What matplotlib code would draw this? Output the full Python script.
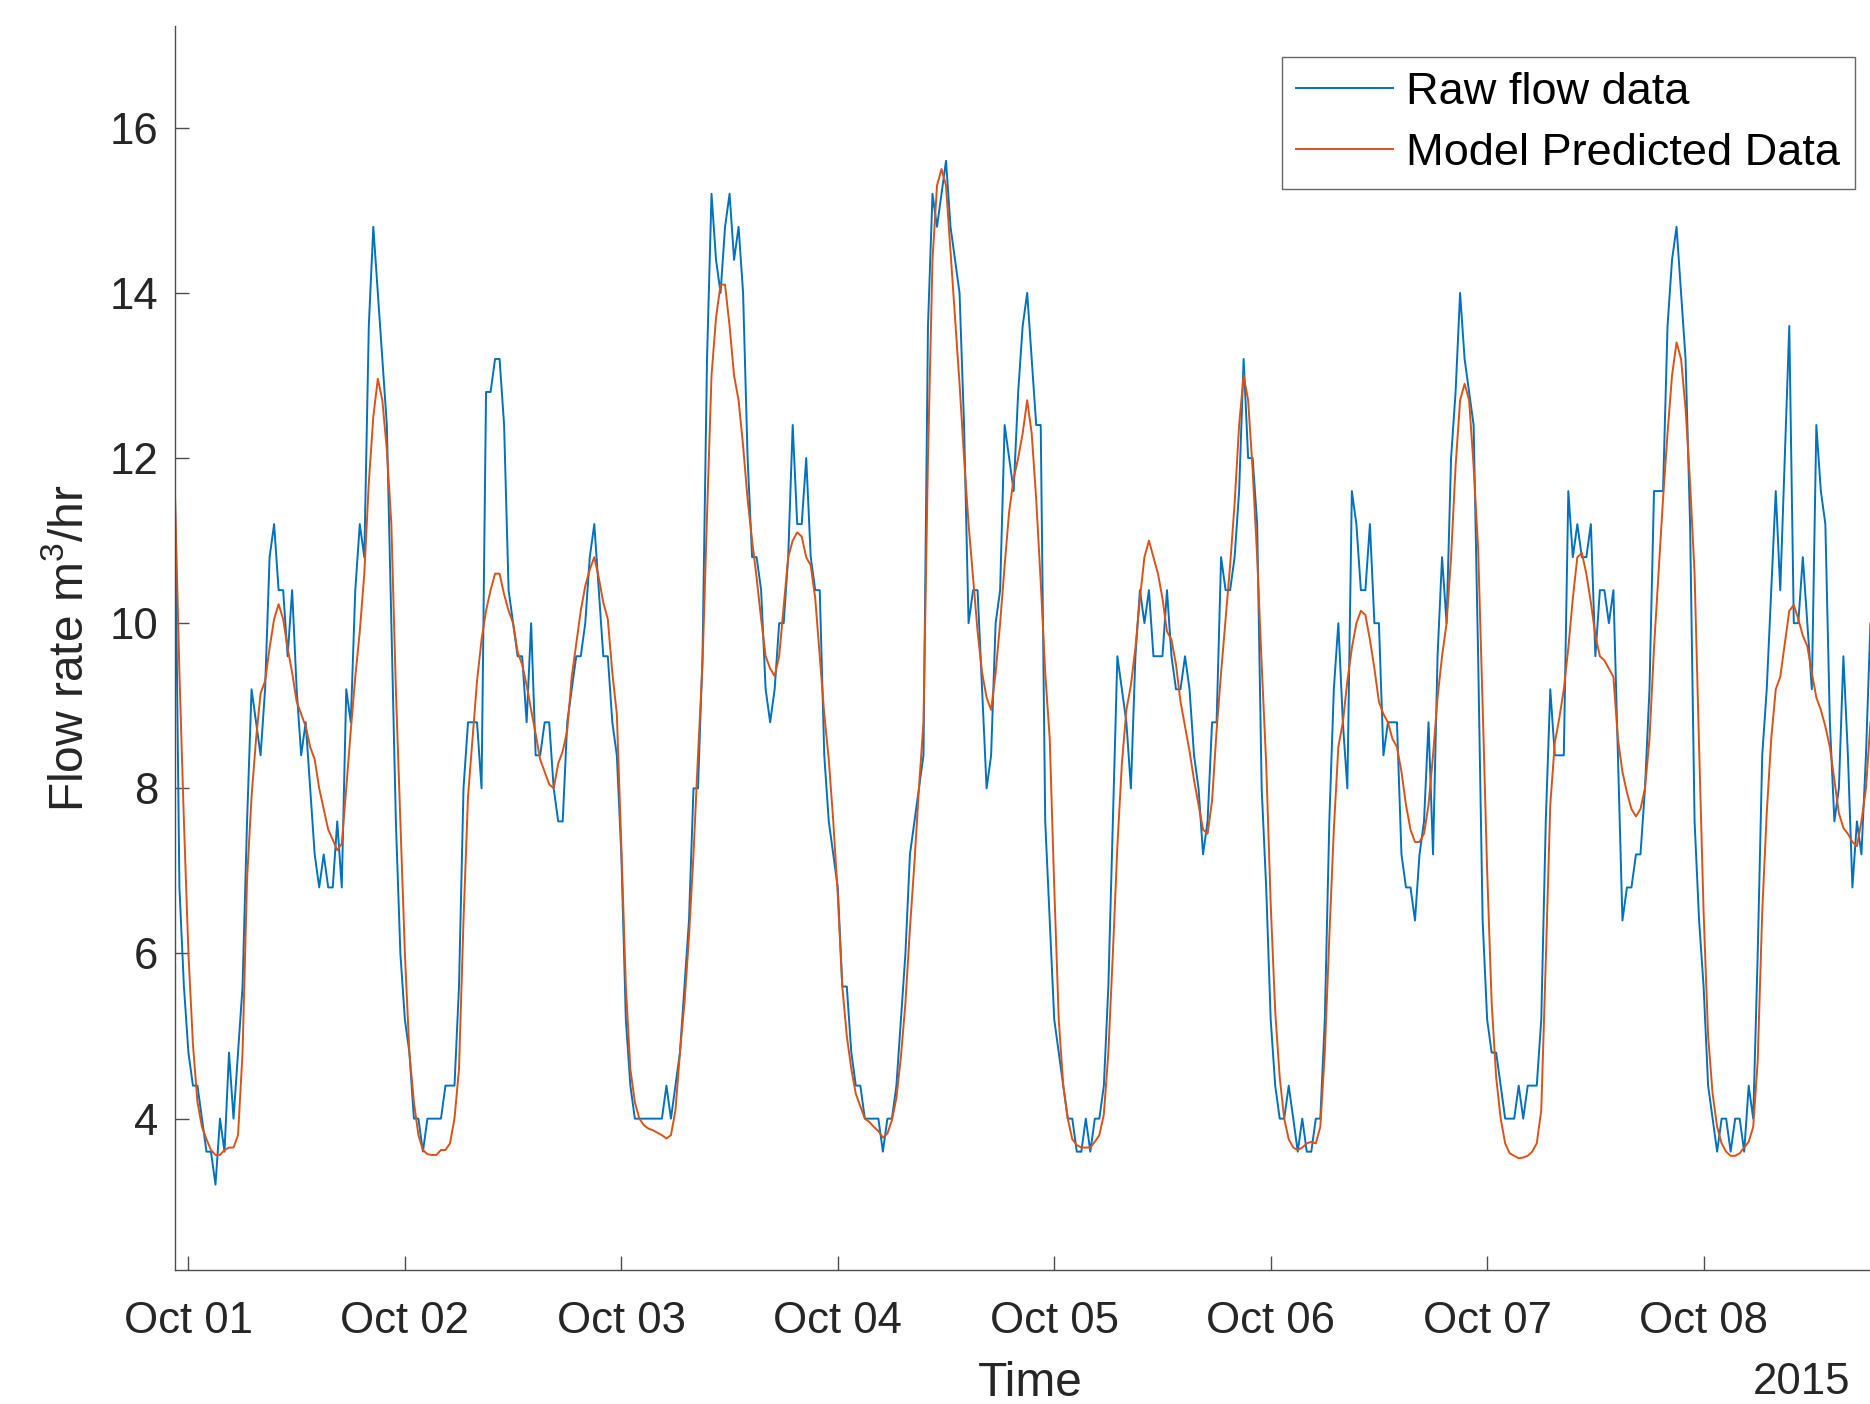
import matplotlib
matplotlib.use('Agg')
import matplotlib.pyplot as plt
import matplotlib.dates as mdates
import pandas as pd

plt.rcParams['font.family'] = ['Liberation Sans', 'DejaVu Sans']
plt.rcParams['mathtext.default'] = 'regular'

# ---------------- data ----------------
start_time = '2015-09-30 22:30'
sample_step = '30min'
x_end = '2015-10-08 18:27'

raw_flow = [
    # Sep 30 22:30 .. Oct 02 00:00
    11.6, 6.8, 5.6, 4.8, 4.4, 4.4, 4.0, 3.6, 3.6, 3.2, 4.0, 3.6, 4.8, 4.0, 4.8, 5.6,
    7.6, 9.2, 8.8, 8.4, 9.2, 10.8, 11.2, 10.4, 10.4, 9.6, 10.4, 9.2, 8.4, 8.8, 8.0, 7.2,
    6.8, 7.2, 6.8, 6.8, 7.6, 6.8, 9.2, 8.8, 10.4, 11.2, 10.8, 13.6, 14.8, 14.0, 13.2, 12.4,
    10.0, 7.6, 6.0, 5.2,
    # Oct 02
    4.8, 4.0, 4.0, 3.6, 4.0, 4.0, 4.0, 4.0, 4.4, 4.4, 4.4, 5.6, 8.0, 8.8, 8.8, 8.8,
    8.0, 12.8, 12.8, 13.2, 13.2, 12.4, 10.4, 10.0, 9.6, 9.6, 8.8, 10.0, 8.4, 8.4, 8.8, 8.8,
    8.0, 7.6, 7.6, 8.8, 9.2, 9.6, 9.6, 10.0, 10.8, 11.2, 10.4, 9.6, 9.6, 8.8, 8.4, 7.2,
    # Oct 03
    5.2, 4.4, 4.0, 4.0, 4.0, 4.0, 4.0, 4.0, 4.0, 4.4, 4.0, 4.4, 4.8, 5.6, 6.4, 8.0,
    8.0, 9.6, 13.2, 15.2, 14.4, 14.0, 14.8, 15.2, 14.4, 14.8, 14.0, 12.0, 10.8, 10.8, 10.4, 9.2,
    8.8, 9.2, 10.0, 10.0, 10.8, 12.4, 11.2, 11.2, 12.0, 10.8, 10.4, 10.4, 8.4, 7.6, 7.2, 6.8,
    # Oct 04
    5.6, 5.6, 4.8, 4.4, 4.4, 4.0, 4.0, 4.0, 4.0, 3.6, 4.0, 4.0, 4.4, 5.2, 6.0, 7.2,
    7.6, 8.0, 8.4, 13.6, 15.2, 14.8, 15.2, 15.6, 14.8, 14.4, 14.0, 12.4, 10.0, 10.4, 10.4, 9.2,
    8.0, 8.4, 10.0, 10.4, 12.4, 12.0, 11.6, 12.8, 13.6, 14.0, 13.2, 12.4, 12.4, 7.6, 6.4, 5.2,
    # Oct 05
    4.8, 4.4, 4.0, 4.0, 3.6, 3.6, 4.0, 3.6, 4.0, 4.0, 4.4, 5.6, 7.6, 9.6, 9.2, 8.8,
    8.0, 9.6, 10.4, 10.0, 10.4, 9.6, 9.6, 9.6, 10.4, 9.6, 9.2, 9.2, 9.6, 9.2, 8.4, 8.0,
    7.2, 7.6, 8.8, 8.8, 10.8, 10.4, 10.4, 10.8, 11.6, 13.2, 12.0, 12.0, 11.2, 8.0, 6.8, 5.2,
    # Oct 06
    4.4, 4.0, 4.0, 4.4, 4.0, 3.6, 4.0, 3.6, 3.6, 4.0, 4.0, 5.2, 7.6, 9.2, 10.0, 8.8,
    8.0, 11.6, 11.2, 10.4, 10.4, 11.2, 10.0, 10.0, 8.4, 8.8, 8.8, 8.8, 7.2, 6.8, 6.8, 6.4,
    7.2, 7.6, 8.8, 7.2, 9.6, 10.8, 10.0, 12.0, 12.8, 14.0, 13.2, 12.8, 12.4, 9.6, 6.4, 5.2,
    # Oct 07
    4.8, 4.8, 4.4, 4.0, 4.0, 4.0, 4.4, 4.0, 4.4, 4.4, 4.4, 5.2, 7.6, 9.2, 8.4, 8.4,
    8.4, 11.6, 10.8, 11.2, 10.8, 10.8, 11.2, 9.6, 10.4, 10.4, 10.0, 10.4, 8.4, 6.4, 6.8, 6.8,
    7.2, 7.2, 8.0, 9.2, 11.6, 11.6, 11.6, 13.6, 14.4, 14.8, 14.0, 13.2, 11.2, 7.6, 6.4, 5.6,
    # Oct 08
    4.4, 4.0, 3.6, 4.0, 4.0, 3.6, 4.0, 4.0, 3.6, 4.4, 4.0, 6.0, 8.4, 9.2, 10.4, 11.6,
    10.4, 12.0, 13.6, 10.0, 10.0, 10.8, 10.0, 9.2, 12.4, 11.6, 11.2, 8.8, 7.6, 8.0, 9.6, 8.4,
    6.8, 7.6, 7.2, 8.4, 10.0,
]

model_pred = [
    # Sep 30 22:30 .. Oct 02 00:00
    11.6, 9.4, 7.6, 6.0, 4.9, 4.2, 3.9, 3.75, 3.62, 3.56, 3.56, 3.62, 3.65, 3.65, 3.8, 4.8,
    6.9, 7.9, 8.6, 9.15, 9.3, 9.7, 10.05, 10.23, 10.05, 9.7, 9.4, 9.05, 8.9, 8.75, 8.5, 8.35,
    8.0, 7.75, 7.5, 7.38, 7.25, 7.33, 8.0, 8.7, 9.35, 9.9, 10.6, 11.7, 12.5, 12.96, 12.7, 12.1,
    11.2, 9.2, 7.6, 6.0,
    # Oct 02
    4.8, 4.2, 3.8, 3.62, 3.57, 3.56, 3.56, 3.62, 3.62, 3.7, 4.0, 4.6, 6.4, 7.9, 8.6, 9.3,
    9.8, 10.15, 10.4, 10.6, 10.6, 10.35, 10.15, 10.0, 9.65, 9.5, 9.25, 8.95, 8.66, 8.35, 8.2, 8.05,
    8.0, 8.3, 8.45, 8.7, 9.35, 9.75, 10.15, 10.45, 10.65, 10.8, 10.55, 10.25, 10.05, 9.4, 8.9, 7.3,
    # Oct 03
    5.6, 4.6, 4.2, 4.0, 3.92, 3.88, 3.86, 3.83, 3.8, 3.76, 3.8, 4.1, 4.8, 5.4, 6.2, 7.2,
    8.4, 9.5, 11.3, 13.0, 13.7, 14.1, 14.1, 13.6, 13.0, 12.7, 12.15, 11.5, 11.0, 10.55, 10.05, 9.6,
    9.45, 9.36, 9.6, 10.2, 10.8, 11.0, 11.1, 11.05, 10.8, 10.7, 10.3, 9.6, 8.9, 8.35, 7.6, 6.7,
    # Oct 04
    5.6, 5.0, 4.6, 4.3, 4.15, 4.0, 3.96, 3.9, 3.85, 3.77, 3.82, 3.98, 4.25, 4.75, 5.4, 6.3,
    7.1, 8.0, 8.8, 12.0, 14.4, 15.3, 15.5, 15.3, 14.5, 13.7, 12.9, 12.0, 11.2, 10.55, 9.9, 9.4,
    9.1, 8.95, 9.4, 10.0, 10.7, 11.35, 11.75, 12.0, 12.3, 12.7, 12.3, 11.5, 10.5, 9.4, 8.6, 6.8,
    # Oct 05
    5.2, 4.4, 4.0, 3.75, 3.68, 3.65, 3.65, 3.65, 3.72, 3.8, 4.05, 4.8, 6.0, 7.3, 8.3, 8.95,
    9.25, 9.7, 10.3, 10.8, 11.0, 10.8, 10.6, 10.3, 9.9, 9.8, 9.5, 9.05, 8.75, 8.45, 8.1, 7.8,
    7.5, 7.45, 7.85, 8.7, 9.4, 10.05, 10.7, 11.45, 12.4, 13.0, 12.7, 11.85, 10.8, 9.5, 8.3, 6.6,
    # Oct 06
    5.3, 4.5, 4.0, 3.75, 3.65, 3.62, 3.65, 3.7, 3.72, 3.7, 3.9, 4.8, 6.2, 7.5, 8.5, 8.8,
    9.3, 9.7, 10.0, 10.15, 10.1, 9.8, 9.45, 9.05, 8.9, 8.8, 8.6, 8.5, 8.2, 7.8, 7.5, 7.35,
    7.35, 7.45, 7.8, 8.4, 9.1, 9.6, 10.0, 10.8, 11.9, 12.7, 12.9, 12.7, 11.9, 10.9, 9.0, 7.0,
    # Oct 07
    5.4, 4.5, 4.0, 3.7, 3.58, 3.55, 3.52, 3.53, 3.55, 3.6, 3.7, 4.1, 5.9, 7.8, 8.55, 8.85,
    9.2, 9.7, 10.3, 10.8, 10.85, 10.6, 10.25, 9.85, 9.6, 9.55, 9.45, 9.35, 8.6, 8.2, 7.95, 7.75,
    7.66, 7.75, 8.0, 8.6, 9.7, 10.6, 11.5, 12.3, 13.0, 13.4, 13.2, 12.6, 11.7, 10.6, 8.5, 6.5,
    # Oct 08
    5.0, 4.3, 3.9, 3.7, 3.6, 3.55, 3.55, 3.58, 3.65, 3.72, 3.9, 4.7, 6.5, 7.7, 8.6, 9.2,
    9.35, 9.75, 10.15, 10.22, 10.05, 9.85, 9.72, 9.4, 9.1, 8.95, 8.75, 8.5, 8.1, 7.7, 7.52, 7.45,
    7.35, 7.3, 7.6, 8.0, 8.8,
]

x_tick_days = ['2015-10-01', '2015-10-02', '2015-10-03', '2015-10-04',
               '2015-10-05', '2015-10-06', '2015-10-07', '2015-10-08']
y_ticks = [4, 6, 8, 10, 12, 14, 16]
y_limits = (2.167, 17.23)
series_labels = ['Raw flow data', 'Model Predicted Data']
x_label = 'Time'
y_label = 'Flow rate m$^3$/hr'
year_label = '2015'

# ---------------- figure ----------------
W, H = 1870, 1404
times = pd.date_range(start_time, periods=len(raw_flow), freq=sample_step)

fig = plt.figure(figsize=(W / 100, H / 100), dpi=100)
ax_left, ax_top, ax_bottom = 174.9, 26.2, 1270.0
ax = fig.add_axes([ax_left / W, 1 - ax_bottom / H, 1 - ax_left / W, (ax_bottom - ax_top) / H])

ax.plot(times, raw_flow, color='#0072BD', lw=1.4, label=series_labels[0])
ax.plot(times, model_pred, color='#D95319', lw=1.4, label=series_labels[1])

ax.set_xlim(times[0], pd.Timestamp(x_end))
ax.set_ylim(*y_limits)
ax.set_yticks(y_ticks)
ax.set_xticks(pd.to_datetime(x_tick_days))
ax.xaxis.set_major_formatter(mdates.DateFormatter('%b %d'))

axis_col = '#262626'
spine_col = '#4d4d4d'
for s in ['top', 'right']:
    ax.spines[s].set_visible(False)
for s in ['left', 'bottom']:
    ax.spines[s].set_color(spine_col)
    ax.spines[s].set_linewidth(1.0)

ax.tick_params(axis='both', direction='in', length=10, width=1.0, color=spine_col,
               labelcolor=axis_col, labelsize=31.5)
ax.tick_params(axis='x', pad=22.5)
ax.tick_params(axis='y', pad=12)

ax.set_xlabel(x_label, fontsize=34.5, color=axis_col)
ax.xaxis.label.set_va('center')
ax.xaxis.set_label_coords((1030 - ax_left) / (W - ax_left), (ax_bottom - 1383) / (ax_bottom - ax_top))
ax.set_ylabel(y_label, fontsize=34.5, color=axis_col)
ax.yaxis.label.set_va('center')
ax.yaxis.set_label_coords((70 - ax_left) / (W - ax_left), 0.5)

fig.text(1850 / W, 1 - 1383 / H, year_label, ha='right', va='center',
         fontsize=31.5, color=axis_col)

leg = ax.legend(loc='upper right', bbox_to_anchor=(1855 / W, 1 - 57 / H),
                bbox_transform=fig.transFigure, fontsize=32.5, frameon=True,
                fancybox=False, edgecolor='#666666', framealpha=1,
                handlelength=2.15, handletextpad=0.28, borderpad=0.33,
                labelspacing=0.45, borderaxespad=0)
leg.get_frame().set_linewidth(1.0)

fig.savefig('out.png', dpi=100)
